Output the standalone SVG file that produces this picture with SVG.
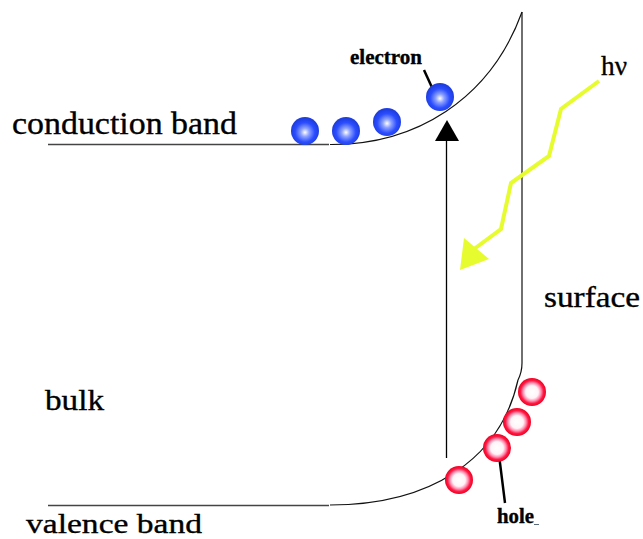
<svg xmlns="http://www.w3.org/2000/svg" width="643" height="539" viewBox="0 0 643 539">
  <style>
    .lbl { font-family: "Liberation Serif", "Times New Roman", serif; fill: #000; stroke: #000; stroke-width: 0.35; }
    .band { fill: none; stroke: #444; stroke-width: 1.3; }
    .curve { fill: none; stroke: #111; stroke-width: 1.2; }
    .ptr { stroke: #000; stroke-width: 2.5; }
    .photon { fill: none; stroke: #e6fc2e; stroke-width: 4; stroke-linejoin: miter; }
  </style>
  <defs>
    <radialGradient id="eg" cx="0.5" cy="0.55" r="0.5" fx="0.5" fy="0.55">
      <stop offset="0" stop-color="#ffffff"/>
      <stop offset="0.3" stop-color="#8ea2ff"/>
      <stop offset="0.7" stop-color="#2a4dff"/>
      <stop offset="1" stop-color="#1f3ee0"/>
    </radialGradient>
    <radialGradient id="hg" cx="0.5" cy="0.5" r="0.5">
      <stop offset="0" stop-color="#ffffff"/>
      <stop offset="0.45" stop-color="#fff4f8"/>
      <stop offset="0.65" stop-color="#ff8fb0"/>
      <stop offset="0.82" stop-color="#ff1a45"/>
      <stop offset="1" stop-color="#f00020"/>
    </radialGradient>
  </defs>

  <g id="bands">
    <path class="band" d="M48,144.5 L329,144.5"/>
    <path class="curve" d="M330,144.5 C415,145 490,100 522,12"/>
    <path class="curve" d="M522,12 L522,363 Q522,372 518,380"/>
    <path class="band" d="M48,505.5 L329,505.5"/>
    <path class="curve" d="M330,505 C430,505 500,460 518,380"/>
  </g>

  <g id="connectors">
    <line x1="446.5" y1="458" x2="446.5" y2="139" stroke="#000" stroke-width="1.3"/>
    <polygon points="447,120 435,141 459,141" fill="#000"/>
    <polyline class="photon" points="599,81 561,109 549,156 511,183 501,229 470,252"/>
    <polygon points="460,270 464,238 489,259" fill="#e6fc2e"/>
    <line class="ptr" x1="424" y1="70" x2="435" y2="94"/>
    <line class="ptr" x1="499" y1="455" x2="505" y2="503"/>
  </g>

  <g id="electrons">
    <circle cx="305" cy="131" r="14" fill="url(#eg)"/>
    <circle cx="346" cy="131" r="14" fill="url(#eg)"/>
    <circle cx="387" cy="122" r="14" fill="url(#eg)"/>
    <circle cx="440" cy="97" r="14" fill="url(#eg)"/>
  </g>

  <g id="holes">
    <circle cx="532" cy="392" r="14" fill="url(#hg)"/>
    <circle cx="517" cy="422" r="14" fill="url(#hg)"/>
    <circle cx="497" cy="448" r="14" fill="url(#hg)"/>
    <circle cx="459" cy="480" r="14" fill="url(#hg)"/>
  </g>

  <g id="conduction-band">
    <text class="lbl" x="12" y="134" font-size="31" textLength="225" lengthAdjust="spacingAndGlyphs">conduction band</text>
  </g>
  <g id="valence-band">
    <text class="lbl" x="26" y="533" font-size="28" textLength="176" lengthAdjust="spacingAndGlyphs">valence band</text>
  </g>
  <g id="bulk">
    <text class="lbl" x="45" y="410" font-size="30" textLength="59" lengthAdjust="spacingAndGlyphs">bulk</text>
  </g>
  <g id="surface">
    <text class="lbl" x="544" y="307" font-size="29" textLength="96" lengthAdjust="spacingAndGlyphs">surface</text>
  </g>
  <g id="hv">
    <text class="lbl" x="601" y="75" font-size="27" textLength="26" lengthAdjust="spacingAndGlyphs">hν</text>
  </g>
  <g id="electron">
    <text class="lbl" x="350" y="64" font-size="21" font-weight="bold" textLength="72" lengthAdjust="spacingAndGlyphs">electron</text>
  </g>
  <g id="hole">
    <text class="lbl" x="497" y="523" font-size="21" font-weight="bold" textLength="37" lengthAdjust="spacingAndGlyphs">hole</text>
    <line x1="534" y1="524.5" x2="539" y2="524.5" stroke="#5a6b7c" stroke-width="1"/>
  </g>
</svg>
